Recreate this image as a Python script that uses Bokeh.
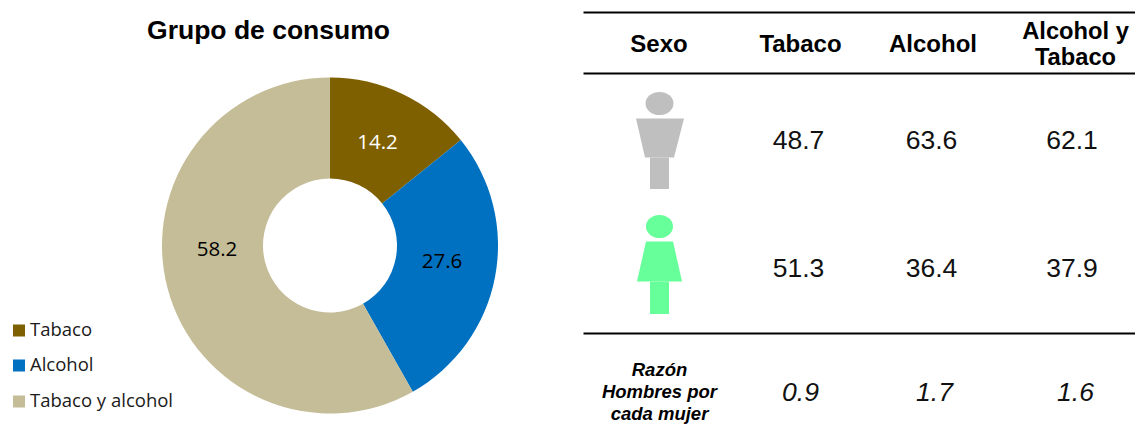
from math import pi
import numpy as np
from bokeh.embed import file_html
from bokeh.models import Range1d
from bokeh.plotting import figure
from bokeh.resources import INLINE
from bokeh.core.properties import value

# ---- data
groups = ["Tabaco", "Alcohol", "Tabaco y alcohol"]
shares = [14.2, 27.6, 58.2]
group_colors = ["#7F6000", "#0070C0", "#C4BD97"]
columns = ["Sexo", "Tabaco", "Alcohol", "Alcohol y\nTabaco"]
hombres = [48.7, 63.6, 62.1]
mujeres = [51.3, 36.4, 37.9]
razon = [0.9, 1.7, 1.6]
razon_label = "Razón\nHombres por\ncada mujer"
title = "Grupo de consumo"

WIDTH, HEIGHT = 1135, 442
PAGE_H = 442


def Y(py):
    return PAGE_H - py


p = figure(width=WIDTH, height=HEIGHT, output_backend="svg", toolbar_location=None,
           x_range=Range1d(0, WIDTH), y_range=Range1d(0, HEIGHT),
           min_border=0, outline_line_color=None)
p.axis.visible = False
p.grid.visible = False
p.background_fill_color = "white"

ARIAL = value("Liberation Sans")
LEG = value("Open Sans")


def label(x, py, s, size, color="#000000", font=ARIAL, style="normal", align="center", lh=1.0):
    p.text([x], [Y(py)], text=[s], text_font=font, text_font_size=f"{size}px",
           text_font_style=style, text_color=color, text_align=align,
           text_baseline="middle", text_line_height=lh)


# ---- donut
cx, cy, r_out, r_in = 329.5, Y(245), 168, 67
fr = np.cumsum([0] + shares) / sum(shares)
starts = pi / 2 - 2 * pi * fr[1:]
ends = pi / 2 - 2 * pi * fr[:-1]
p.annular_wedge([cx] * 3, [cy] * 3, inner_radius=r_in, outer_radius=r_out,
                start_angle=starts, end_angle=ends, fill_color=group_colors, line_color=None)

label(268, 29, title, 26.5, style="bold")
for s, x, py, c in zip(shares, [377, 441.5, 216.5], [141, 260, 248], ["#FFFFFF", "#000000", "#000000"]):
    label(x, py, f"{s:.1f}", 20.5, color=c, font=LEG)

# ---- legend
for g, c, py in zip(groups, group_colors, [330, 365, 401]):
    p.rect([18.5], [Y(py)], width=12, height=12, fill_color=c, line_color=None)
    label(29.5, py - 2, g, 18.5, color="#1a1a1a", font=LEG, align="left")

# ---- table
for py in [12, 73, 333]:
    p.line([583, 1135], [Y(py), Y(py)], line_color="#000000", line_width=2)

for x, py, s, size in zip([658.5, 800, 932.5, 1075], [42.5, 42.5, 42.5, 43], columns, [24, 24, 24, 23.7]):
    label(x, py, s, size, style="bold", lh=1.0)

for row, py in zip([hombres, mujeres], [139.5, 267.5]):
    for x, v in zip([798, 931, 1071.5], row):
        label(x, py, f"{v:.1f}", 26.5, color="#111111")
for x, v in zip([800, 934, 1075], razon):
    label(x, 391, f"{v:.1f}", 26.5, color="#111111", style="italic")
label(659, 391, razon_label, 18.5, style="bold italic", lh=1.03)

# ---- icons
GREY, GREEN = "#BFBFBF", "#66FF99"


def person(color, hy, hw, hh, tx, ty, bx, legs_bottom):
    p.ellipse([659], [Y(hy)], width=hw, height=hh, fill_color=color, line_color=None)
    p.patch(tx + bx[::-1], [Y(ty[0])] * 2 + [Y(ty[1])] * 2, fill_color=color, line_color=None)
    p.quad(left=[649.5], right=[668.5], top=[Y(ty[1])], bottom=[Y(legs_bottom)], fill_color=color, line_color=None)


person(GREY, 103, 28, 23, [635.5, 683.5], [118, 157], [644.5, 673.5], 188.5)
person(GREEN, 226, 27, 23, [645.5, 672.5], [241, 281], [636.5, 681.5], 313.5)

open("out.html", "w").write(file_html(p, INLINE))
